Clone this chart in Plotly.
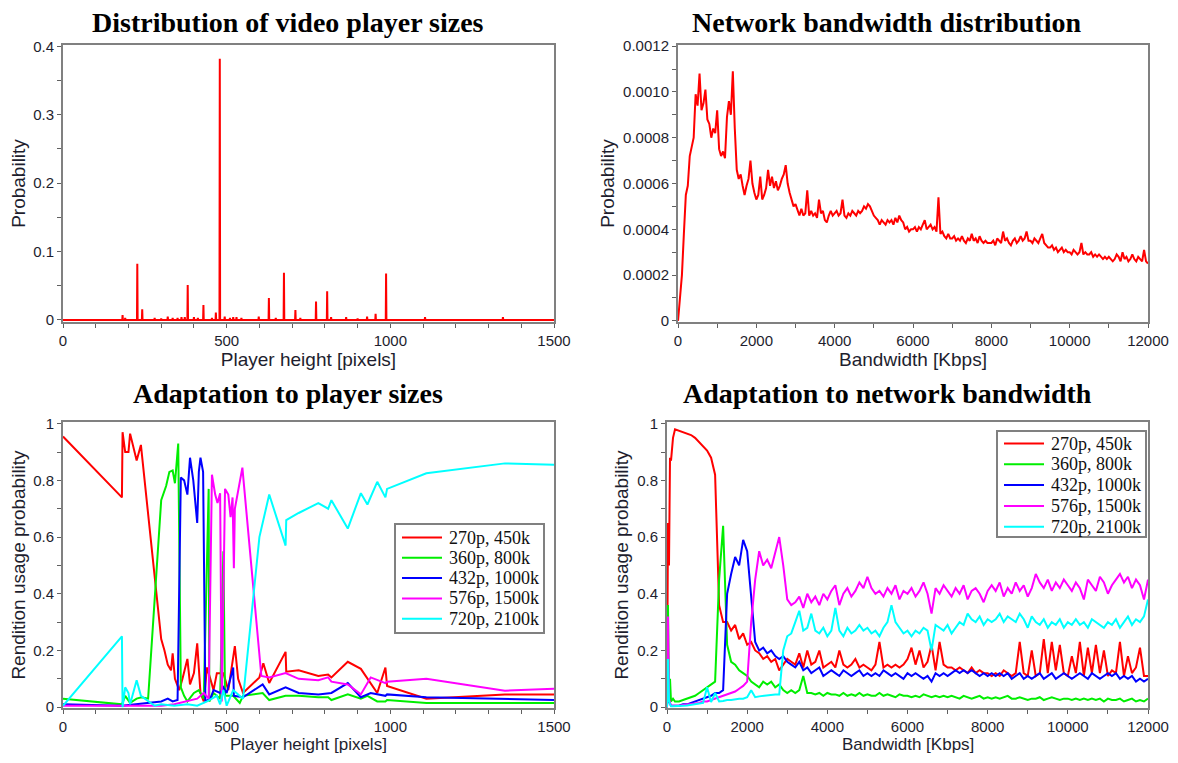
import plotly.graph_objects as go

# ---------------- DATA ----------------
# Panel 1: distribution of video player sizes (spikes; every other height ~0)
PH_HEIGHTS = [182, 190, 227, 242, 280, 300, 320, 335, 350, 362, 372, 381, 400, 412, 429, 455, 467,
              479, 494, 510, 520, 530, 545, 598, 629, 650, 675, 710, 725, 773, 807, 819, 865,
              900, 929, 955, 987, 1106, 1344]
PH_PROB = [0.007, 0.003, 0.082, 0.0156, 0.003, 0.002, 0.005, 0.003, 0.003, 0.004, 0.004, 0.051, 0.004,
           0.003, 0.022, 0.003, 0.0107, 0.382, 0.005, 0.003, 0.004, 0.004, 0.003, 0.005, 0.032, 0.003,
           0.069, 0.0146, 0.003, 0.027, 0.042, 0.004, 0.004, 0.002, 0.005, 0.009, 0.068, 0.004, 0.004]

# Panel 2: network bandwidth distribution (values in units of 1e-4), every 50 Kbps from 0 to 12000
BW_DIST_X = list(range(0, 12001, 50))
BW_DIST_P = [
    0.0, 1.0, 2.0, 3.8, 5.5, 5.9, 7.2, 7.6, 8.0, 9.9, 9.4, 10.8, 9.2, 9.5, 10.1, 8.8, 8.6, 8.0, 8.4, 8.2,
    9.2, 7.5, 7.2, 7.4, 7.1, 8.9, 9.6, 9.0, 10.9, 8.4, 6.6, 6.2, 6.4, 5.9, 5.5, 5.9, 6.2, 7.0, 6.0, 5.6,
    5.3, 5.5, 6.3, 5.3, 5.5, 5.8, 6.6, 5.9, 6.3, 5.8, 6.1, 5.7, 5.9, 6.2, 6.4, 6.8, 6.0, 5.6, 5.3, 5.0,
    5.1, 4.8, 4.6, 4.9, 4.6, 4.7, 5.7, 4.6, 4.8, 4.6, 4.7, 4.5, 5.3, 4.7, 4.8, 4.4, 4.3, 4.6, 4.8, 4.6,
    4.7, 4.8, 4.6, 4.7, 5.3, 4.6, 4.5, 4.7, 4.6, 4.8, 4.7, 4.6, 4.8, 4.7, 4.8, 5.0, 4.9, 5.1, 5.0, 4.8,
    4.6, 4.5, 4.4, 4.2, 4.4, 4.3, 4.2, 4.4, 4.3, 4.4, 4.2, 4.5, 4.3, 4.6, 4.4, 4.3, 4.0, 4.1, 3.9, 4.0,
    4.0, 4.1, 3.9, 4.1, 4.0, 4.2, 4.4, 4.0, 4.1, 4.2, 4.0, 4.1, 3.9, 5.4, 3.8, 3.9, 3.7, 3.6, 3.8, 3.6,
    3.6, 3.7, 3.5, 3.6, 3.5, 3.7, 3.5, 3.4, 3.6, 3.5, 3.8, 3.5, 3.6, 3.4, 3.7, 3.5, 3.4, 3.5, 3.4, 3.4,
    3.4, 3.5, 3.3, 3.6, 3.5, 3.4, 3.9, 3.5, 3.6, 3.4, 3.3, 3.5, 3.6, 3.4, 3.5, 3.7, 3.5, 3.6, 3.9, 3.5,
    3.5, 3.4, 3.6, 3.5, 3.4, 3.6, 3.8, 3.4, 3.3, 3.2, 3.2, 3.3, 3.1, 3.2, 3.0, 3.1, 3.2, 3.0, 3.1, 3.0,
    3.0, 2.9, 3.1, 3.0, 2.9, 3.0, 3.4, 2.9, 3.0, 2.9, 2.9, 3.0, 2.8, 2.9, 2.8, 2.9, 2.8, 2.7, 2.8, 2.7,
    2.8, 2.7, 2.6, 2.7, 2.9, 2.8, 2.6, 3.0, 2.7, 2.8, 2.6, 2.7, 2.9, 2.7, 2.6, 2.8, 2.7, 2.6, 3.1, 2.6,
    2.5,
]

SERIES_NAMES = ["270p, 450k", "360p, 800k", "432p, 1000k", "576p, 1500k", "720p, 2100k"]
SERIES_COLORS = ["#ff0000", "#00ee00", "#0000ff", "#ff00ff", "#00ffff"]

# Panel 3: adaptation to player sizes
AP_270_X = [0, 180, 182, 190, 200, 205, 225, 238, 300, 310, 320, 330, 335, 342, 355, 365, 380, 388, 400,
            410, 420, 430, 440, 460, 470, 490, 505, 515, 525, 535, 550, 600, 612, 630, 680, 682, 720,
            780, 810, 820, 870, 910, 960, 985, 990, 1110, 1350, 1500]
AP_270_Y = [0.955, 0.74, 0.97, 0.90, 0.90, 0.965, 0.87, 0.925, 0.24, 0.20, 0.15, 0.13, 0.19, 0.10, 0.06,
            0.10, 0.17, 0.08, 0.12, 0.225, 0.05, 0.02, 0.14, 0.06, 0.12, 0.12, 0.06, 0.14, 0.215, 0.10,
            0.05, 0.105, 0.155, 0.085, 0.195, 0.125, 0.13, 0.11, 0.115, 0.105, 0.16, 0.135, 0.05, 0.14,
            0.075, 0.03, 0.045, 0.045]
AP_360_X = [0, 180, 190, 205, 225, 240, 260, 300, 315, 325, 335, 342, 352, 360, 370, 380, 400, 415, 430,
            445, 447, 460, 480, 490, 495, 520, 540, 550, 610, 630, 680, 720, 780, 810, 820, 870, 910,
            930, 960, 985, 990, 1110, 1500]
AP_360_Y = [0.03, 0.01, 0.04, 0.015, 0.03, 0.035, 0.03, 0.73, 0.78, 0.83, 0.835, 0.79, 0.93, 0.07, 0.04,
            0.02, 0.05, 0.06, 0.03, 0.77, 0.02, 0.05, 0.03, 0.55, 0.04, 0.04, 0.015, 0.04, 0.05, 0.025,
            0.04, 0.04, 0.035, 0.035, 0.025, 0.045, 0.03, 0.04, 0.02, 0.02, 0.025, 0.015, 0.015]
AP_432_X = [0, 180, 300, 320, 335, 350, 360, 370, 380, 388, 398, 410, 415, 420, 428, 435, 450, 460, 480,
            490, 500, 520, 522, 550, 610, 630, 680, 720, 780, 820, 870, 910, 940, 985, 990, 1110, 1500]
AP_432_Y = [0.01, 0.005, 0.02, 0.03, 0.02, 0.025, 0.81, 0.80, 0.75, 0.88, 0.80, 0.65, 0.83, 0.88, 0.83,
            0.02, 0.03, 0.06, 0.05, 0.07, 0.05, 0.14, 0.04, 0.035, 0.08, 0.045, 0.07, 0.05, 0.045, 0.05,
            0.085, 0.035, 0.05, 0.04, 0.045, 0.035, 0.025]
AP_576_X = [0, 180, 300, 340, 380, 410, 430, 445, 455, 465, 472, 480, 485, 495, 505, 512, 518, 522, 525,
            548, 606, 630, 680, 720, 780, 810, 820, 870, 910, 940, 985, 990, 1110, 1350, 1500]
AP_576_Y = [0.005, 0.005, 0.005, 0.01, 0.02, 0.03, 0.05, 0.03, 0.82, 0.75, 0.72, 0.755, 0.02, 0.77, 0.75,
            0.67, 0.74, 0.49, 0.70, 0.845, 0.11, 0.105, 0.12, 0.10, 0.095, 0.105, 0.09, 0.08, 0.045,
            0.105, 0.085, 0.09, 0.10, 0.058, 0.065]
AP_720_X = [0, 180, 182, 190, 200, 205, 225, 238, 280, 300, 340, 380, 410, 440, 470, 480, 490, 500, 520,
            550, 600, 630, 680, 682, 720, 780, 810, 820, 870, 910, 930, 960, 985, 990, 1110, 1350, 1500]
AP_720_Y = [0.005, 0.25, 0.0, 0.07, 0.05, 0.01, 0.095, 0.04, 0.005, 0.01, 0.005, 0.01, 0.005, 0.02, 0.04,
            0.01, 0.06, 0.005, 0.06, 0.03, 0.60, 0.75, 0.57, 0.66, 0.685, 0.72, 0.70, 0.73, 0.63, 0.755,
            0.715, 0.795, 0.74, 0.77, 0.825, 0.86, 0.855]

# Panel 4: adaptation to network bandwidth
AB_X = [0, 25, 50, 75, 100, 150] + list(range(200, 12001, 100))
AB_270 = [0.0, 0.65, 0.50, 0.88, 0.87, 0.95,
          0.98, 0.975, 0.97, 0.965, 0.96, 0.95, 0.935, 0.92, 0.905, 0.88,
          0.82, 0.36, 0.30, 0.30, 0.27, 0.29, 0.24, 0.26, 0.22, 0.23,
          0.20, 0.19, 0.17, 0.18, 0.16, 0.17, 0.13, 0.15, 0.17, 0.16,
          0.15, 0.19, 0.14, 0.20, 0.15, 0.16, 0.20, 0.14, 0.15, 0.16,
          0.14, 0.20, 0.15, 0.14, 0.15, 0.17, 0.14, 0.15, 0.14, 0.13,
          0.15, 0.23, 0.14, 0.15, 0.14, 0.15, 0.14, 0.15, 0.17, 0.21,
          0.15, 0.20, 0.14, 0.16, 0.22, 0.13, 0.23, 0.15, 0.14, 0.14,
          0.13, 0.14, 0.13, 0.12, 0.14, 0.12, 0.13, 0.12, 0.12, 0.11,
          0.12, 0.11, 0.13, 0.12, 0.11, 0.12, 0.23, 0.12, 0.11, 0.20,
          0.11, 0.12, 0.24, 0.12, 0.23, 0.13, 0.22, 0.12, 0.11, 0.18,
          0.12, 0.23, 0.11, 0.21, 0.12, 0.22, 0.12, 0.20, 0.11, 0.13,
          0.12, 0.23, 0.11, 0.18, 0.12, 0.14, 0.21, 0.11, 0.11]
AB_360 = [0.0, 0.36, 0.05, 0.10, 0.02, 0.03,
          0.02, 0.02, 0.025, 0.03, 0.035, 0.04, 0.05, 0.06, 0.07, 0.08,
          0.09, 0.45, 0.64, 0.22, 0.16, 0.15, 0.13, 0.12, 0.11, 0.09,
          0.08, 0.07, 0.09, 0.08, 0.09, 0.07, 0.08, 0.06, 0.05, 0.06,
          0.05, 0.06, 0.11, 0.05, 0.05, 0.045, 0.05, 0.04, 0.05, 0.045,
          0.045, 0.04, 0.05, 0.04, 0.045, 0.04, 0.05, 0.04, 0.045, 0.04,
          0.04, 0.05, 0.04, 0.045, 0.04, 0.035, 0.045, 0.04, 0.04, 0.035,
          0.04, 0.035, 0.045, 0.04, 0.035, 0.04, 0.035, 0.04, 0.035, 0.04,
          0.035, 0.03, 0.04, 0.035, 0.03, 0.035, 0.04, 0.03, 0.035, 0.03,
          0.035, 0.03, 0.035, 0.04, 0.03, 0.03, 0.035, 0.03, 0.025, 0.03,
          0.03, 0.035, 0.025, 0.03, 0.035, 0.03, 0.025, 0.03, 0.03, 0.025,
          0.03, 0.025, 0.03, 0.025, 0.03, 0.025, 0.03, 0.02, 0.03, 0.025,
          0.025, 0.03, 0.02, 0.025, 0.03, 0.02, 0.025, 0.02, 0.03]
AB_432 = [0.0, 0.07, 0.02, 0.01, 0.005, 0.005,
          0.005, 0.005, 0.01, 0.01, 0.015, 0.02, 0.025, 0.03, 0.035, 0.04,
          0.05, 0.05, 0.06, 0.40, 0.47, 0.53, 0.50, 0.59, 0.55, 0.40,
          0.23, 0.20, 0.21, 0.19, 0.20, 0.18, 0.17, 0.18, 0.16, 0.15,
          0.14, 0.16, 0.13, 0.14, 0.12, 0.13, 0.14, 0.11, 0.12, 0.13,
          0.12, 0.11, 0.13, 0.12, 0.11, 0.12, 0.13, 0.11, 0.12, 0.11,
          0.12, 0.11, 0.13, 0.12, 0.11, 0.12, 0.11, 0.10, 0.12, 0.11,
          0.12, 0.11, 0.10, 0.11, 0.09, 0.12, 0.11, 0.12, 0.11, 0.12,
          0.13, 0.12, 0.13, 0.12, 0.13, 0.12, 0.11, 0.12, 0.11, 0.12,
          0.11, 0.12, 0.11, 0.12, 0.10, 0.11, 0.12, 0.10, 0.11, 0.10,
          0.11, 0.12, 0.10, 0.11, 0.12, 0.10, 0.11, 0.12, 0.11, 0.10,
          0.11, 0.12, 0.11, 0.10, 0.12, 0.11, 0.10, 0.11, 0.12, 0.11,
          0.12, 0.10, 0.11, 0.10, 0.11, 0.09, 0.10, 0.09, 0.10]
AB_576 = [0.0, 0.32, 0.03, 0.01, 0.005, 0.005,
          0.005, 0.005, 0.008, 0.01, 0.01, 0.012, 0.015, 0.02, 0.02, 0.025,
          0.03, 0.035, 0.04, 0.045, 0.05, 0.055, 0.065, 0.075, 0.09, 0.30,
          0.45, 0.55, 0.50, 0.52, 0.49, 0.55, 0.60, 0.50, 0.38, 0.36,
          0.37, 0.39, 0.35, 0.40, 0.37, 0.39, 0.36, 0.40, 0.38, 0.41,
          0.43, 0.36, 0.40, 0.42, 0.39, 0.41, 0.44, 0.42, 0.46, 0.42,
          0.40, 0.41, 0.39, 0.42, 0.40, 0.43, 0.38, 0.41, 0.40, 0.42,
          0.39, 0.41, 0.44, 0.40, 0.33, 0.42, 0.40, 0.43, 0.41, 0.39,
          0.42, 0.40, 0.43, 0.38, 0.41, 0.42, 0.40, 0.37, 0.41, 0.43,
          0.41, 0.44, 0.39, 0.42, 0.40, 0.44, 0.41, 0.43, 0.39, 0.42,
          0.47, 0.44, 0.42, 0.45, 0.41, 0.44, 0.42, 0.45, 0.43, 0.41,
          0.44, 0.42, 0.38, 0.45, 0.43, 0.41, 0.46, 0.44, 0.40, 0.43,
          0.45, 0.47, 0.44, 0.46, 0.42, 0.45, 0.43, 0.38, 0.45]
AB_720 = [0.0, 0.17, 0.02, 0.01, 0.003, 0.003,
          0.003, 0.004, 0.005, 0.006, 0.008, 0.01, 0.012, 0.015, 0.07, 0.018,
          0.05, 0.02, 0.022, 0.025, 0.025, 0.028, 0.03, 0.03, 0.035, 0.06,
          0.035, 0.038, 0.04, 0.04, 0.042, 0.045, 0.045, 0.20, 0.25, 0.26,
          0.30, 0.34, 0.27, 0.28, 0.33, 0.27, 0.26, 0.28, 0.25, 0.27,
          0.35, 0.27, 0.25, 0.28, 0.26, 0.27, 0.29, 0.27, 0.28, 0.26,
          0.27, 0.25, 0.28, 0.30, 0.36, 0.30, 0.28, 0.26, 0.27, 0.25,
          0.27, 0.26, 0.28, 0.27, 0.20, 0.29, 0.28, 0.27, 0.29, 0.26,
          0.28, 0.30, 0.29, 0.33, 0.31, 0.30, 0.32, 0.29, 0.31, 0.30,
          0.31, 0.33, 0.30, 0.32, 0.31, 0.30, 0.33, 0.31, 0.28, 0.32,
          0.30, 0.29, 0.31, 0.28, 0.30, 0.29, 0.31, 0.28, 0.30, 0.29,
          0.31, 0.29, 0.30, 0.28, 0.31, 0.30, 0.29, 0.28, 0.30, 0.29,
          0.31, 0.28, 0.30, 0.32, 0.29, 0.31, 0.30, 0.32, 0.38]

TITLES = ["Distribution of video player sizes", "Network bandwidth distribution",
          "Adaptation to player sizes", "Adaptation to network bandwidth"]
BW_DIST_TICKVALS = [0, 0.0002, 0.0004, 0.0006, 0.0008, 0.0010, 0.0012]
BW_DIST_TICKTEXT = ["0", "0.0002", "0.0004", "0.0006", "0.0008", "0.0010", "0.0012"]

# ---------------- FIGURE ----------------
# The page body has an 8px margin, so the figure is sized to fit the 1178x763 window.
OFF = 8
W, H = 1178 - 2 * OFF, 763 - 2 * OFF

def fx(px):
    return (px - OFF) / W

def fy(py):
    return 1 - (py - OFF) / H

def px_x(a, b):
    return [fx(a), fx(b)]

def px_y(top, bottom):
    return [fy(bottom), fy(top)]

fig = go.Figure()

# Panel 1: build spike line from sparse values
sx, sy = [0], [0]
for h, p in zip(PH_HEIGHTS, PH_PROB):
    sx += [h - 1, h, h + 1]
    sy += [0, p, 0]
sx.append(1500); sy.append(0)
fig.add_trace(go.Scatter(x=sx, y=sy, mode="lines", line=dict(color="#ff0000", width=2),
                         showlegend=False, xaxis="x", yaxis="y"))

# Panel 2
fig.add_trace(go.Scatter(x=BW_DIST_X, y=[v * 1e-4 for v in BW_DIST_P], mode="lines",
                         line=dict(color="#ff0000", width=2), showlegend=False,
                         xaxis="x2", yaxis="y2"))

# Panel 3
ap = [(AP_270_X, AP_270_Y), (AP_360_X, AP_360_Y), (AP_432_X, AP_432_Y),
      (AP_576_X, AP_576_Y), (AP_720_X, AP_720_Y)]
for (xs, ys), name, col in zip(ap, SERIES_NAMES, SERIES_COLORS):
    fig.add_trace(go.Scatter(x=xs, y=ys, mode="lines", name=name,
                             line=dict(color=col, width=2), xaxis="x3", yaxis="y3",
                             showlegend=False))

# Panel 4
ab = [AB_270, AB_360, AB_432, AB_576, AB_720]
for ys, name, col in zip(ab, SERIES_NAMES, SERIES_COLORS):
    fig.add_trace(go.Scatter(x=AB_X, y=ys, mode="lines", name=name,
                             line=dict(color=col, width=2), xaxis="x4", yaxis="y4",
                             showlegend=False))

FRAME = "#808080"
TICKFONT = dict(family="Liberation Sans, Arial, sans-serif", size=15, color="#1e1e2e")
TITLEFONT = dict(family="Liberation Sans, Arial, sans-serif", size=19, color="#1e1e2e")
BOTTOM_TITLEFONT = dict(family="Liberation Sans, Arial, sans-serif", size=17, color="#1e1e2e")

def axis(domain, rng, dtick, minor, title, anchor, tickvals=None, ticktext=None, fmt="", standoff=3):
    d = dict(domain=domain, range=rng, showgrid=False, zeroline=False, automargin=False,
             showline=True, linecolor=FRAME, linewidth=2, mirror=True,
             ticks="outside", ticklen=4, tickwidth=1, tickcolor="#606060",
             tickfont=TICKFONT, anchor=anchor, tickformat=fmt,
             minor=dict(dtick=minor, ticks="outside", ticklen=4, tickwidth=1,
                        tickcolor="#606060", showgrid=False))
    if title:
        d["title"] = dict(text=title, font=TITLEFONT, standoff=standoff)
    if tickvals is not None:
        d.update(tickmode="array", tickvals=tickvals, ticktext=ticktext)
    else:
        d.update(tick0=0, dtick=dtick)
    return d

xd_l = px_x(63, 554)
xd_r1 = px_x(678, 1148)
xd_r2 = px_x(667, 1148)
yd_t = px_y(45, 322)
yd_b = px_y(422, 708)

fig.update_layout(
    width=W, height=H, margin=dict(l=0, r=0, t=0, b=0, autoexpand=False),
    paper_bgcolor="white", plot_bgcolor="white", showlegend=False,
    xaxis=axis(xd_l, [0, 1500], 500, 100, "Player height [pixels]", "y", fmt="d"),
    yaxis=axis(yd_t, [-0.003, 0.402], 0.1, 0.05, "Probability", "x"),
    xaxis2=axis(xd_r1, [0, 12000], 2000, 1000, "Bandwidth [Kbps]", "y2", fmt="d"),
    yaxis2=axis(yd_t, [-0.000005, 0.001205], None, 0.0001, "Probability", "x2",
                tickvals=BW_DIST_TICKVALS, ticktext=BW_DIST_TICKTEXT),
    xaxis3=axis(xd_l, [0, 1500], 500, 100, None, "y3", fmt="d"),
    yaxis3=axis(yd_b, [-0.003, 1.006], 0.2, 0.1, "Rendition usage probability", "x3"),
    xaxis4=axis(xd_r2, [0, 12000], 2000, 1000, None, "y4", fmt="d"),
    yaxis4=axis(yd_b, [-0.003, 1.006], 0.2, 0.1, "Rendition usage probability", "x4"),
)

# Bottom x-axis titles placed explicitly so they stay inside the window
for txt, cx in [("Player height [pixels]", (63 + 554) / 2), ("Bandwidth [Kbps]", (667 + 1148) / 2)]:
    fig.add_annotation(text=txt, x=fx(cx), y=fy(744), xref="paper", yref="paper",
                       xanchor="center", yanchor="middle", showarrow=False, font=BOTTOM_TITLEFONT)

# Legends (drawn as boxes of line samples and labels)
LEG_FONT = dict(family="Liberation Serif, Times New Roman, serif", size=18, color="#111111")

def legend_box(left, top, right, bottom, first_row, step):
    fig.add_shape(type="rect", xref="paper", yref="paper",
                  x0=fx(left), x1=fx(right), y0=fy(bottom), y1=fy(top),
                  line=dict(color=FRAME, width=2), fillcolor="white", layer="above")
    for i, (name, col) in enumerate(zip(SERIES_NAMES, SERIES_COLORS)):
        yc = first_row + i * step
        fig.add_shape(type="line", xref="paper", yref="paper",
                      x0=fx(left + 7), x1=fx(left + 47), y0=fy(yc), y1=fy(yc),
                      line=dict(color=col, width=2), layer="above")
        fig.add_annotation(text=name, x=fx(left + 52), y=fy(yc), xref="paper", yref="paper",
                           xanchor="left", yanchor="middle", showarrow=False, font=LEG_FONT)

legend_box(395, 524, 544, 633, 537.5, 20.3)
legend_box(997, 431, 1146, 537, 443.5, 20.8)

title_pos = [(288, 22), (886, 22), (288, 393), (887, 393)]
for t, (cx, cy) in zip(TITLES, title_pos):
    fig.add_annotation(text="<b>%s</b>" % t, x=fx(cx), y=fy(cy), xref="paper", yref="paper",
                       xanchor="center", yanchor="middle", showarrow=False,
                       font=dict(family="Liberation Serif, Times New Roman, serif", size=28,
                                 color="#000000"))

fig.write_html("out.html")
